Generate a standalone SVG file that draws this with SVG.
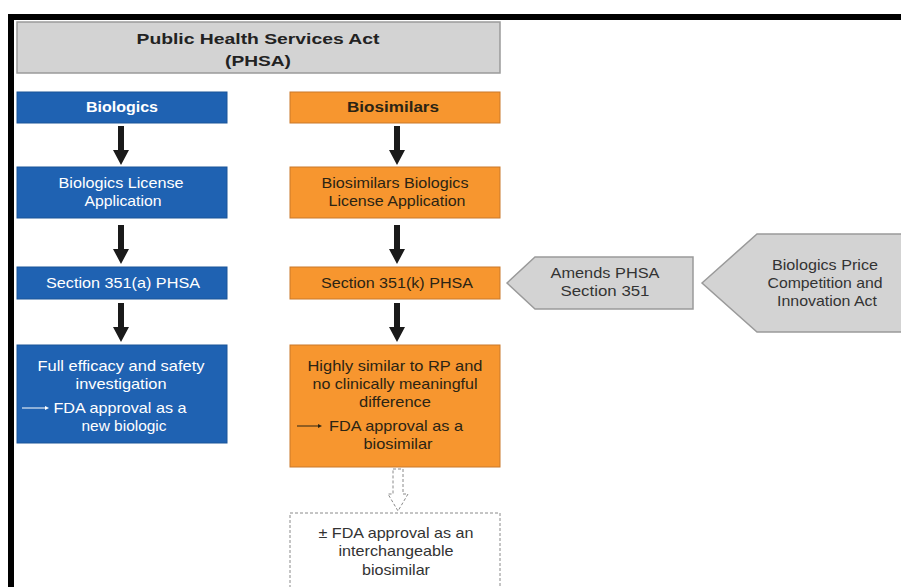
<svg xmlns="http://www.w3.org/2000/svg" width="901" height="587" viewBox="0 0 901 587">
  <defs>
    <style>
      .t { font-family: "Liberation Sans", Arial, sans-serif; font-size: 14.5px; text-anchor: middle; }
      .w { fill: #ffffff; }
      .d { fill: #2b2414; }
      .g { fill: #333333; }
      .b { font-weight: bold; }
      .blue { fill: #1f62b2; stroke: #1a5498; stroke-width: 1; }
      .orange { fill: #f7962f; stroke: #c9782a; stroke-width: 1; }
      .grey { fill: #d3d3d3; stroke: #9a9a9a; stroke-width: 1.5; }
      .arrow { fill: #1a1a1a; }
    </style>
    <!-- solid down arrow, tip at origin -->
    <path id="down" class="arrow" d="M-3,-39 L3,-39 L3,-15 L8,-15 L0,0 L-8,-15 L-3,-15 Z"/>
  </defs>

  <rect width="901" height="587" fill="#ffffff"/>
  <!-- frame -->
  <rect x="8" y="14" width="893" height="6" fill="#000"/>
  <rect x="8" y="14" width="6" height="573" fill="#000"/>

  <g id="phsa">
    <rect class="grey" x="17" y="22" width="483" height="51"/>
    <text class="t b" x="258" y="44" font-size="17" fill="#222" textLength="243" lengthAdjust="spacingAndGlyphs">Public Health Services Act</text>
    <text class="t b" x="258" y="66" font-size="17" fill="#222" textLength="66" lengthAdjust="spacingAndGlyphs">(PHSA)</text>
  </g>

  <g id="biologics">
    <rect class="blue" x="17" y="92" width="210" height="31"/>
    <text class="t b w" x="122" y="112" textLength="72" lengthAdjust="spacingAndGlyphs">Biologics</text>
  </g>
  <g id="bla">
    <rect class="blue" x="17" y="167" width="210" height="51"/>
    <text class="t w" x="121" y="188" textLength="125" lengthAdjust="spacingAndGlyphs">Biologics License</text>
    <text class="t w" x="123" y="206" textLength="77" lengthAdjust="spacingAndGlyphs">Application</text>
  </g>
  <g id="sec351a">
    <rect class="blue" x="17" y="267" width="210" height="32"/>
    <text class="t w" x="123" y="288" textLength="154" lengthAdjust="spacingAndGlyphs">Section 351(a) PHSA</text>
  </g>
  <g id="full">
    <rect class="blue" x="17" y="345" width="210" height="98"/>
    <text class="t w" x="121" y="371" textLength="167" lengthAdjust="spacingAndGlyphs">Full efficacy and safety</text>
    <text class="t w" x="121" y="389" textLength="91" lengthAdjust="spacingAndGlyphs">investigation</text>
    <line x1="22" y1="408" x2="47" y2="408" stroke="#fff" stroke-width="1"/>
    <path d="M45,406 L49,408 L45,410 Z" fill="#fff"/>
    <text class="t w" x="120" y="413" textLength="133" lengthAdjust="spacingAndGlyphs">FDA approval as a</text>
    <text class="t w" x="124" y="431" textLength="85" lengthAdjust="spacingAndGlyphs">new biologic</text>
  </g>

  <g id="biosimilars">
    <rect class="orange" x="290" y="92" width="210" height="31"/>
    <text class="t b d" x="393" y="112" textLength="92" lengthAdjust="spacingAndGlyphs">Biosimilars</text>
  </g>
  <g id="bbla">
    <rect class="orange" x="290" y="167" width="210" height="51"/>
    <text class="t d" x="395" y="188" textLength="147" lengthAdjust="spacingAndGlyphs">Biosimilars Biologics</text>
    <text class="t d" x="397" y="206" textLength="137" lengthAdjust="spacingAndGlyphs">License Application</text>
  </g>
  <g id="sec351k">
    <rect class="orange" x="290" y="267" width="210" height="32"/>
    <text class="t d" x="397" y="288" textLength="152" lengthAdjust="spacingAndGlyphs">Section 351(k) PHSA</text>
  </g>
  <g id="similar">
    <rect class="orange" x="290" y="345" width="210" height="122"/>
    <text class="t d" x="395" y="371" textLength="175" lengthAdjust="spacingAndGlyphs">Highly similar to RP and</text>
    <text class="t d" x="395" y="389" textLength="165" lengthAdjust="spacingAndGlyphs">no clinically meaningful</text>
    <text class="t d" x="395" y="407" textLength="72" lengthAdjust="spacingAndGlyphs">difference</text>
    <line x1="297" y1="426" x2="320" y2="426" stroke="#2b2414" stroke-width="1"/>
    <path d="M318,424 L322,426 L318,428 Z" fill="#2b2414"/>
    <text class="t d" x="396" y="431" textLength="134" lengthAdjust="spacingAndGlyphs">FDA approval as a</text>
    <text class="t d" x="398" y="449" textLength="69" lengthAdjust="spacingAndGlyphs">biosimilar</text>
  </g>

  <g id="interchangeable">
    <rect x="290" y="513" width="210" height="80" fill="#ffffff" stroke="#8a8a8a" stroke-width="1" stroke-dasharray="3,2"/>
    <text class="t" x="396" y="538" fill="#333" textLength="155" lengthAdjust="spacingAndGlyphs">± FDA approval as an</text>
    <text class="t" x="396" y="556" fill="#333" textLength="115" lengthAdjust="spacingAndGlyphs">interchangeable</text>
    <text class="t" x="396" y="575" fill="#333" textLength="68" lengthAdjust="spacingAndGlyphs">biosimilar</text>
  </g>

  <g id="amends">
    <polygon class="grey" points="507,283 535,257 693,257 693,309 535,309"/>
    <text class="t g" x="605" y="278" textLength="109" lengthAdjust="spacingAndGlyphs">Amends PHSA</text>
    <text class="t g" x="605" y="296" textLength="89" lengthAdjust="spacingAndGlyphs">Section 351</text>
  </g>
  <g id="bpcia">
    <polygon class="grey" points="702,283 757,234 903,234 903,332 757,332"/>
    <text class="t g" x="825" y="270" textLength="106" lengthAdjust="spacingAndGlyphs">Biologics Price</text>
    <text class="t g" x="825" y="288" textLength="115" lengthAdjust="spacingAndGlyphs">Competition and</text>
    <text class="t g" x="827" y="306" textLength="100" lengthAdjust="spacingAndGlyphs">Innovation Act</text>
  </g>

  <g id="connectors">
    <use href="#down" x="121" y="165"/>
    <use href="#down" x="121" y="264"/>
    <use href="#down" x="121" y="342"/>
    <use href="#down" x="397" y="165"/>
    <use href="#down" x="397" y="264"/>
    <use href="#down" x="397" y="342"/>
    <!-- optional step: dashed hollow arrow -->
    <path d="M393,469 L403,469 L403,494 L408,494 L398,511 L388,494 L393,494 Z" fill="#ffffff" stroke="#8a8a8a" stroke-width="1" stroke-dasharray="3,2"/>
  </g>
</svg>
